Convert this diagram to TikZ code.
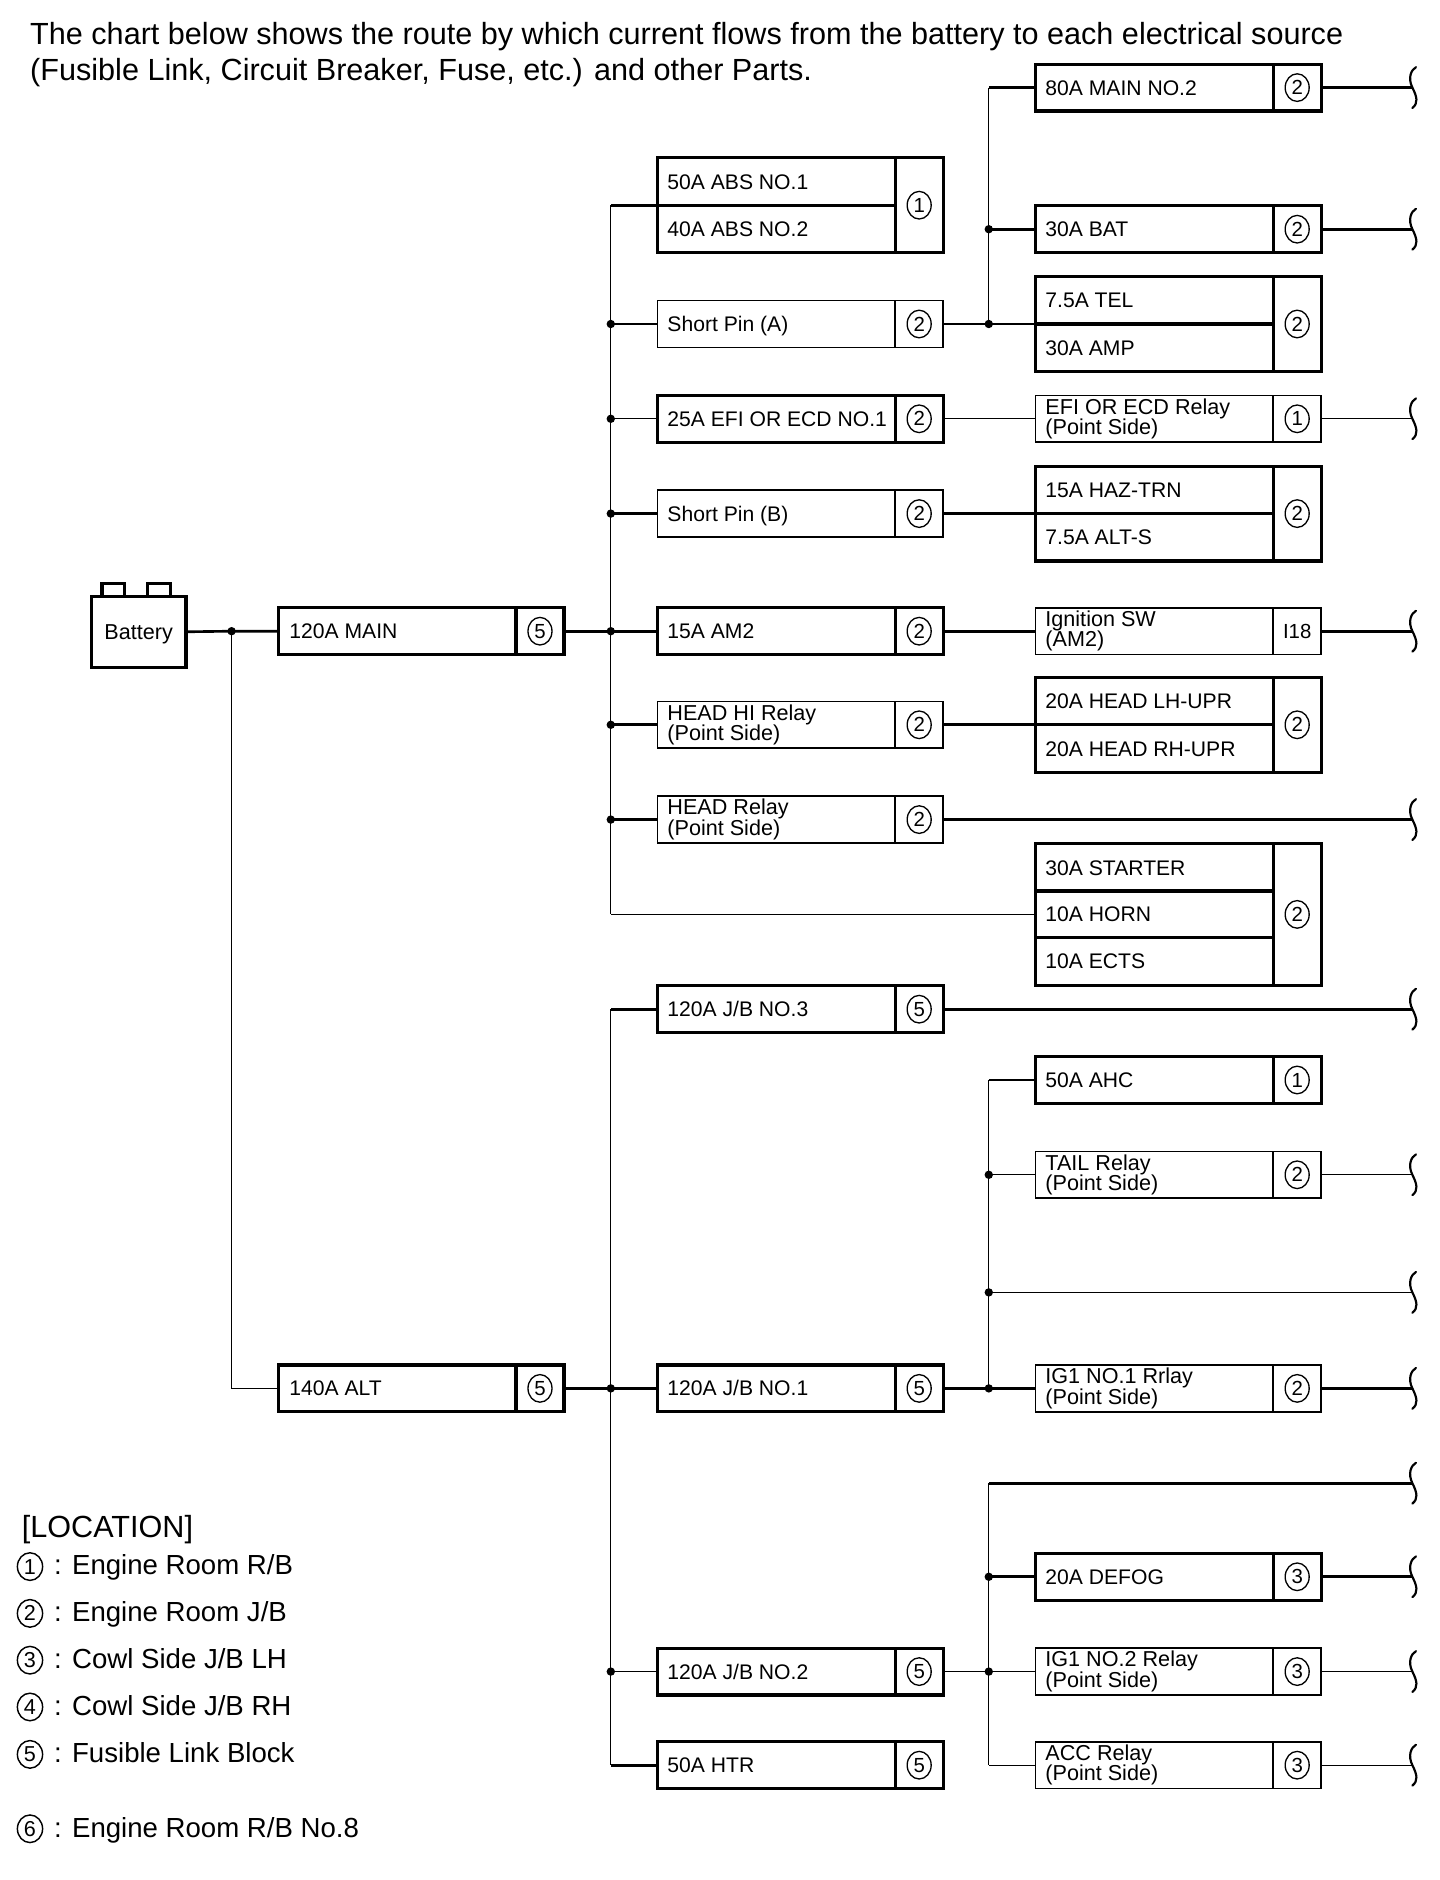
\documentclass[tikz,border=0pt]{standalone}
\usepackage{fontspec}
\setmainfont{Liberation Sans}
\usetikzlibrary{shapes.geometric}
\newcommand{\fusebox}[7][locc]{% [locstyle] name, xleft, yc, height, border style, loc
  \node[draw,#6,outer sep=0pt,minimum width=238pt,minimum height=#5,inner sep=0pt,anchor=west] (#2) at (#3,#4) {};
  \draw[#6] ([xshift=-40pt]#2.north east) -- ([xshift=-40pt]#2.south east);
  \node[#1] (#2-c) at ([xshift=-20pt]#2.east) {#7};
}
\begin{document}
\begin{tikzpicture}[x=1pt,y=-1pt,
  wthin/.style={line width=1.1pt},
  wthick/.style={line width=2.2pt},
  bthin/.style={line width=1.3pt},
  bthick/.style={line width=2.6pt},
  jdot/.style={circle,fill=black,inner sep=0pt,minimum size=7pt},
  locc/.style={ellipse,draw,line width=1.1pt,inner sep=0pt,minimum width=20pt,minimum height=23pt,font=\fontsize{17}{17}\selectfont},
  locplain/.style={inner sep=0pt,font=\fontsize{17}{17}\selectfont},
  legc/.style={ellipse,draw,line width=1.2pt,inner sep=0pt,minimum width=21pt,minimum height=23pt,font=\fontsize{18}{18}\selectfont},
  lbl/.style={inner sep=0pt,anchor=west,font=\fontsize{17.6}{17}\selectfont,text height=12.6pt,text depth=0pt},
  lblii/.style={inner sep=0pt,anchor=west,align=left,font=\fontsize{18}{17}\selectfont},
  bigtxt/.style={inner sep=0pt,anchor=base west,font=\fontsize{23}{23}\selectfont},
  headtxt/.style={inner sep=0pt,anchor=base west,font=\fontsize{25.5}{25.5}\selectfont},
  brace/.pic={\draw[line width=1.8pt,line cap=round] (3,-17) .. controls (-1,-15) and (-4,-8) .. (0,0) .. controls (4,8) and (5,13) .. (0,17);}
]
\fill[white] (0,0) rectangle (1200,1566.7);
\useasboundingbox (0,0) rectangle (1200,1566.7);

% header
\node[headtxt] (h1) at (25,37) {The chart below shows the route by which current flows from the battery to each electrical source};
\node[headtxt] (h2) at (25,67) {(Fusible Link, Circuit Breaker, Fuse, etc.) and other Parts.};

% battery
\node[draw,bthick,outer sep=0pt,minimum width=79pt,minimum height=59pt,inner sep=0pt] (bat) at (115.5,526.5) {};
\node[lbl,anchor=center,font=\fontsize{18}{18}\selectfont] (batt) at (bat.center) {Battery};
\draw[bthick] (85,497) -- (85,486) -- (104,486) -- (104,497);
\draw[bthick] (123,497) -- (123,486) -- (142,486) -- (142,497);

% main fusible links
\fusebox{mainf}{232}{526}{39pt}{bthick}{5}
\node[lbl] at ([xshift=9pt]mainf.west) {120A MAIN};
\fusebox{alt}{232}{1157}{39pt}{bthick}{5}
\node[lbl] at ([xshift=9pt]alt.west) {140A ALT};

% left column
\fusebox{abs}{548}{171}{79pt}{bthick}{1}
\draw[bthick] (abs.west) -- ([xshift=-40pt]abs.east);
\node[lbl] at ([xshift=8pt,yshift=19.75pt]abs.west) {50A ABS NO.1};
\node[lbl] at ([xshift=8pt,yshift=-19.75pt]abs.west) {40A ABS NO.2};
\fusebox{spa}{548}{270}{39pt}{bthin}{2}
\node[lbl] at ([xshift=8pt]spa.west) {Short Pin (A)};
\fusebox{efi}{548}{349}{39pt}{bthick}{2}
\node[lbl] at ([xshift=8pt]efi.west) {25A EFI OR ECD NO.1};
\fusebox{spb}{548}{428}{39pt}{bthin}{2}
\node[lbl] at ([xshift=8pt]spb.west) {Short Pin (B)};
\fusebox{amii}{548}{526}{39pt}{bthick}{2}
\node[lbl] at ([xshift=8pt]amii.west) {15A AM2};
\fusebox{headhi}{548}{604}{39pt}{bthin}{2}
\node[lblii] at ([xshift=8pt]headhi.west) {HEAD HI Relay\\(Point Side)};
\fusebox{head}{548}{683}{39pt}{bthin}{2}
\node[lblii] at ([xshift=8pt]head.west) {HEAD Relay\\(Point Side)};
\fusebox{jbiii}{548}{841}{39pt}{bthick}{5}
\node[lbl] at ([xshift=8pt]jbiii.west) {120A J/B NO.3};
\fusebox{jbi}{548}{1157}{39pt}{bthick}{5}
\node[lbl] at ([xshift=8pt]jbi.west) {120A J/B NO.1};
\fusebox{jbii}{548}{1393}{39pt}{bthick}{5}
\node[lbl] at ([xshift=8pt]jbii.west) {120A J/B NO.2};
\fusebox{htr}{548}{1471}{39pt}{bthick}{5}
\node[lbl] at ([xshift=8pt]htr.west) {50A HTR};

% right column
\fusebox{mainii}{863}{73}{39pt}{bthick}{2}
\node[lbl] at ([xshift=8pt]mainii.west) {80A MAIN NO.2};
\fusebox{batf}{863}{191}{39pt}{bthick}{2}
\node[lbl] at ([xshift=8pt]batf.west) {30A BAT};
\fusebox{tel}{863}{270}{79pt}{bthick}{2}
\draw[bthick] (tel.west) -- ([xshift=-40pt]tel.east);
\node[lbl] at ([xshift=8pt,yshift=19.75pt]tel.west) {7.5A TEL};
\node[lbl] at ([xshift=8pt,yshift=-19.75pt]tel.west) {30A AMP};
\fusebox{efir}{863}{349}{39pt}{bthin}{1}
\node[lblii] at ([xshift=8pt]efir.west) {EFI OR ECD Relay\\(Point Side)};
\fusebox{haz}{863}{428}{79pt}{bthick}{2}
\draw[bthick] (haz.west) -- ([xshift=-40pt]haz.east);
\node[lbl] at ([xshift=8pt,yshift=19.75pt]haz.west) {15A HAZ-TRN};
\node[lbl] at ([xshift=8pt,yshift=-19.75pt]haz.west) {7.5A ALT-S};
\fusebox[locplain]{ign}{863}{526}{39pt}{bthin}{I18}
\node[lblii] at ([xshift=8pt]ign.west) {Ignition SW\\(AM2)};
\fusebox{headlr}{863}{604}{79pt}{bthick}{2}
\draw[bthick] (headlr.west) -- ([xshift=-40pt]headlr.east);
\node[lbl] at ([xshift=8pt,yshift=19.75pt]headlr.west) {20A HEAD LH-UPR};
\node[lbl] at ([xshift=8pt,yshift=-19.75pt]headlr.west) {20A HEAD RH-UPR};
\fusebox{starter}{863}{762}{118pt}{bthick}{2}
\draw[bthick] ([yshift=19.5pt]starter.west) -- ([xshift=-40pt,yshift=19.5pt]starter.east);
\draw[bthick] ([yshift=-19.5pt]starter.west) -- ([xshift=-40pt,yshift=-19.5pt]starter.east);
\node[lbl] at ([xshift=8pt,yshift=39pt]starter.west) {30A STARTER};
\node[lbl] at ([xshift=8pt]starter.west) {10A HORN};
\node[lbl] at ([xshift=8pt,yshift=-39pt]starter.west) {10A ECTS};
\fusebox{ahc}{863}{900}{39pt}{bthick}{1}
\node[lbl] at ([xshift=8pt]ahc.west) {50A AHC};
\fusebox{tail}{863}{979}{39pt}{bthin}{2}
\node[lblii] at ([xshift=8pt]tail.west) {TAIL Relay\\(Point Side)};
\fusebox{igi}{863}{1157}{39pt}{bthin}{2}
\node[lblii] at ([xshift=8pt]igi.west) {IG1 NO.1 Rrlay\\(Point Side)};
\fusebox{defog}{863}{1314}{39pt}{bthick}{3}
\node[lbl] at ([xshift=8pt]defog.west) {20A DEFOG};
\fusebox{igii}{863}{1393}{39pt}{bthin}{3}
\node[lblii] at ([xshift=8pt]igii.west) {IG1 NO.2 Relay\\(Point Side)};
\fusebox{acc}{863}{1471}{39pt}{bthin}{3}
\node[lblii] at ([xshift=8pt]acc.west) {ACC Relay\\(Point Side)};

% junctions
\node[jdot] (j0) at (193,526) {};
\node[jdot] (ja) at (509,526) {};
\node[jdot] (ja1) at (509,270) {};
\node[jdot] (ja2) at (509,349) {};
\node[jdot] (ja3) at (509,428) {};
\node[jdot] (ja4) at (509,604) {};
\node[jdot] (ja5) at (509,683) {};
\coordinate (ta) at (509,171);
\coordinate (ba) at (509,762);
\node[jdot] (jb) at (824,270) {};
\node[jdot] (jb1) at (824,191) {};
\coordinate (tb) at (824,73);
\coordinate (c0) at (193,1157);
\node[jdot] (jc) at (509,1157) {};
\node[jdot] (jc1) at (509,1393) {};
\coordinate (tc) at (509,841);
\coordinate (bc) at (509,1471);
\node[jdot] (jd) at (824,1157) {};
\node[jdot] (jd1) at (824,979) {};
\node[jdot] (jd2) at (824,1077) {};
\coordinate (td) at (824,900);
\node[jdot] (je) at (824,1393) {};
\node[jdot] (je1) at (824,1314) {};
\coordinate (te) at (824,1236);
\coordinate (be) at (824,1471);

% wire ends with braces
\foreach \n/\y in {e1/73,e2/191,e3/349,e4/526,e5/683,e6/841,e7/979,e8/1077,e9/1157,e10/1236,e11/1314,e12/1393,e13/1471}{
  \coordinate (\n) at (1177,\y);
  \pic at (\n) {brace};
}

% wires: battery and main
\draw[wthick] (bat.east) -- (j0.center) -- (mainf.west);
\draw[wthin] (j0.center) -- (c0) -- (alt.west);
\draw[wthick] (mainf.east) -- (ja.center);
\draw[wthin] (ta) -- (ba);
\draw[wthick] (ta) -- (abs.west);
\draw[wthick] (ja1.center) -- (spa.west);
\draw[wthin] (ja2.center) -- (efi.west);
\draw[wthick] (ja3.center) -- (spb.west);
\draw[wthick] (ja.center) -- (amii.west);
\draw[wthick] (ja4.center) -- (headhi.west);
\draw[wthick] (ja5.center) -- (head.west);
\draw[wthin] (ba) -- (starter.west);

% middle upper
\draw[wthick] (spa.east) -- (jb.center) -- (tel.west);
\draw[wthin] (tb) -- (jb.center);
\draw[wthick] (tb) -- (mainii.west);
\draw[wthick] (jb1.center) -- (batf.west);
\draw[wthin] (efi.east) -- (efir.west);
\draw[wthick] (spb.east) -- (haz.west);
\draw[wthick] (amii.east) -- (ign.west);
\draw[wthick] (headhi.east) -- (headlr.west);
\draw[wthick] (head.east) -- (e5);
\draw[wthick] (mainii.east) -- (e1);
\draw[wthick] (batf.east) -- (e2);
\draw[wthin] (efir.east) -- (e3);
\draw[wthick] (ign.east) -- (e4);

% lower
\draw[wthick] (alt.east) -- (jc.center);
\draw[wthin] (tc) -- (bc);
\draw[wthick] (tc) -- (jbiii.west);
\draw[wthick] (jc.center) -- (jbi.west);
\draw[wthin] (jc1.center) -- (jbii.west);
\draw[wthick] (bc) -- (htr.west);
\draw[wthick] (jbiii.east) -- (e6);
\draw[wthick] (jbi.east) -- (jd.center) -- (igi.west);
\draw[wthin] (td) -- (jd.center);
\draw[wthick] (td) -- (ahc.west);
\draw[wthin] (jd1.center) -- (tail.west);
\draw[wthin] (jd2.center) -- (e8);
\draw[wthin] (tail.east) -- (e7);
\draw[wthick] (igi.east) -- (e9);
\draw[wthin] (jbii.east) -- (je.center) -- (igii.west);
\draw[wthin] (te) -- (be);
\draw[wthick] (te) -- (e10);
\draw[wthick] (je1.center) -- (defog.west);
\draw[wthin] (be) -- (acc.west);
\draw[wthick] (defog.east) -- (e11);
\draw[wthin] (igii.east) -- (e12);
\draw[wthin] (acc.east) -- (e13);

% legend
\node[headtxt] (loct) at (18,1281) {[LOCATION]};
\foreach \k/\b/\t in {1/1312.5/Engine Room R\slash B, 2/1351.5/Engine Room J\slash B, 3/1390.5/Cowl Side J\slash B LH, 4/1429.5/Cowl Side J\slash B RH, 5/1469/Fusible Link Block, 6/1531/Engine Room R\slash B No.8}{
  \node[legc] (lc\k) at (25,\b-7) {\k};
  \node[bigtxt] (lt\k) at (45,\b) {: \t};
}
\end{tikzpicture}
\end{document}
